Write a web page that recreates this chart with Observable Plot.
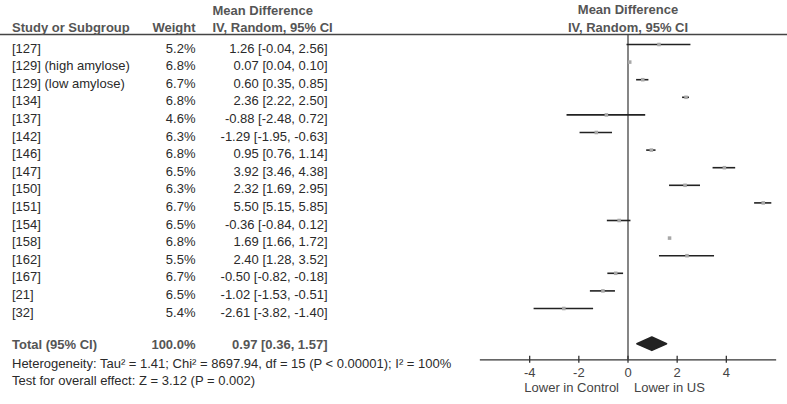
<!DOCTYPE html>
<html>
<head>
<meta charset="utf-8">
<script src="https://cdn.jsdelivr.net/npm/d3@7"></script>
<script src="https://cdn.jsdelivr.net/npm/@observablehq/plot@0.6"></script>
<style>
  html, body { margin: 0; padding: 0; background: #fff; }
  svg text { font-size: 13px; }
</style>
</head>
<body>
<div id="chart"></div>
<script>
const studies = ["[127]", "[129] (high amylose)", "[129] (low amylose)", "[134]", "[137]", "[142]", "[146]", "[147]", "[150]", "[151]", "[154]", "[158]", "[162]", "[167]", "[21]", "[32]"];
const weights = [5.2, 6.8, 6.7, 6.8, 4.6, 6.3, 6.8, 6.5, 6.3, 6.7, 6.5, 6.8, 5.5, 6.7, 6.5, 5.4];
const meanDiff = [1.26, 0.07, 0.60, 2.36, -0.88, -1.29, 0.95, 3.92, 2.32, 5.50, -0.36, 1.69, 2.40, -0.50, -1.02, -2.61];
const ciLow = [-0.04, 0.04, 0.35, 2.22, -2.48, -1.95, 0.76, 3.46, 1.69, 5.15, -0.84, 1.66, 1.28, -0.82, -1.53, -3.82];
const ciHigh = [2.56, 0.10, 0.85, 2.50, 0.72, -0.63, 1.14, 4.38, 2.95, 5.85, 0.12, 1.72, 3.52, -0.18, -0.51, -1.40];

const totalLabel = "Total (95% CI)";
const totalWeight = 100.0;
const totalMD = 0.97;
const totalLow = 0.36;
const totalHigh = 1.57;

const tau2 = 1.41, chi2 = 8697.94, df = 15, pHet = "< 0.00001", i2 = 100;
const zValue = 3.12, pOverall = 0.002;

const xTicks = [-4, -2, 0, 2, 4];
const directionLabels = ["Lower in Control", "Lower in US"];
const colHeaders = ["Study or Subgroup", "Weight"];
const mdHeader = ["Mean Difference", "IV, Random, 95% CI"];

const fmtCI = (m, l, h) => `${m.toFixed(2)} [${l.toFixed(2)}, ${h.toFixed(2)}]`;

const rows = studies.map((name, i) => ({
  name, row: i,
  weight: weights[i].toFixed(1) + "%",
  md: meanDiff[i], lo: ciLow[i], hi: ciHigh[i],
  ci: fmtCI(meanDiff[i], ciLow[i], ciHigh[i])
}));
const totalRow = studies.length + 1;
const totalData = [{
  name: totalLabel, row: totalRow,
  weight: totalWeight.toFixed(1) + "%",
  ci: fmtCI(totalMD, totalLow, totalHigh)
}];
const dh = 0.38;
const diamond = [
  {x: totalLow, y: totalRow},
  {x: totalMD, y: totalRow - dh},
  {x: totalHigh, y: totalRow},
  {x: totalMD, y: totalRow + dh}
];

const hetText = `Heterogeneity: Tau² = ${tau2.toFixed(2)}; Chi² = ${chi2.toFixed(2)}, df = ${df} (P ${pHet}); I² = ${i2}%`;
const testText = `Test for overall effect: Z = ${zValue.toFixed(2)} (P = ${pOverall})`;

const headColor = "#555";
const textColor = "#2a2a2a";
const fs = 13;

const plot = Plot.plot({
  width: 787,
  height: 404,
  marginTop: 34,
  marginBottom: 44.7,
  marginLeft: 0,
  marginRight: 0,
  x: {domain: [-6, 6], insetLeft: 480, insetRight: 12},
  y: {domain: [0, totalRow], range: [44, 343.2], axis: null},
  style: {fontFamily: "'Liberation Sans', Arial, sans-serif", fontSize: "13px", background: "#fff", color: textColor},
  marks: [
    Plot.frame({anchor: "top", stroke: "#444", strokeWidth: 1.5}),
    Plot.frame({anchor: "bottom", insetLeft: 480, insetRight: 12, stroke: "#333", strokeWidth: 1.3}),
    Plot.ruleX([0], {stroke: "#444", strokeWidth: 1.3}),
    Plot.axisX({anchor: "bottom", ticks: xTicks, tickSize: 7, tickPadding: 4, dy: -3.5, tickFormat: d => String(d), fontSize: fs, stroke: "#333", strokeWidth: 1.3, fill: "#444", label: null}),
    Plot.ruleY(rows, {y: "row", x1: "lo", x2: "hi", stroke: "#222", strokeWidth: 1.6}),
    Plot.dot(rows, {x: "md", y: "row", symbol: "square", r: 2, fill: "#a8a8a8", stroke: null}),
    Plot.line(diamond, {x: "x", y: "y", fill: "#222", stroke: "#222", curve: "linear-closed"}),
    // column headers
    Plot.text([colHeaders[0]], {frameAnchor: "top-left", dx: 11.5, dy: -6.7, textAnchor: "start", lineAnchor: "middle", fontWeight: "bold", fontSize: fs, fill: headColor}),
    Plot.text([colHeaders[1]], {frameAnchor: "top-left", dx: 195, dy: -6.7, textAnchor: "end", lineAnchor: "middle", fontWeight: "bold", fontSize: fs, fill: headColor}),
    Plot.text([mdHeader[0]], {frameAnchor: "top-left", dx: 212, dy: -24, textAnchor: "start", lineAnchor: "middle", fontWeight: "bold", fontSize: fs, fill: headColor}),
    Plot.text([mdHeader[1]], {frameAnchor: "top-left", dx: 212, dy: -6.7, textAnchor: "start", lineAnchor: "middle", fontWeight: "bold", fontSize: fs, fill: headColor}),
    Plot.text([mdHeader[0]], {x: () => 0, frameAnchor: "top", dy: -24.5, textAnchor: "middle", lineAnchor: "middle", fontWeight: "bold", fontSize: fs, fill: headColor}),
    Plot.text([mdHeader[1]], {x: () => 0, frameAnchor: "top", dy: -7, textAnchor: "middle", lineAnchor: "middle", fontWeight: "bold", fontSize: fs, fill: headColor}),
    // study rows
    Plot.text(rows, {y: "row", text: "name", frameAnchor: "left", dx: 11.5, dy: 4, textAnchor: "start", lineAnchor: "middle", fontSize: fs, fill: textColor}),
    Plot.text(rows, {y: "row", text: "weight", frameAnchor: "left", dx: 195, dy: 4, textAnchor: "end", lineAnchor: "middle", fontSize: fs, fill: textColor}),
    Plot.text(rows, {y: "row", text: "ci", frameAnchor: "left", dx: 327, dy: 4, textAnchor: "end", lineAnchor: "middle", fontSize: fs, fill: textColor}),
    // total row
    Plot.text(totalData, {y: "row", text: "name", frameAnchor: "left", dx: 11.5, dy: 1.5, textAnchor: "start", lineAnchor: "middle", fontWeight: "bold", fontSize: fs, fill: headColor}),
    Plot.text(totalData, {y: "row", text: "weight", frameAnchor: "left", dx: 195, dy: 1.5, textAnchor: "end", lineAnchor: "middle", fontWeight: "bold", fontSize: fs, fill: headColor}),
    Plot.text(totalData, {y: "row", text: "ci", frameAnchor: "left", dx: 327, dy: 1.5, textAnchor: "end", lineAnchor: "middle", fontWeight: "bold", fontSize: fs, fill: headColor}),
    // footnotes
    Plot.text([hetText], {frameAnchor: "bottom-left", dx: 11.5, dy: 4, textAnchor: "start", lineAnchor: "middle", fontSize: fs, fill: textColor}),
    Plot.text([testText], {frameAnchor: "bottom-left", dx: 11.5, dy: 21.4, textAnchor: "start", lineAnchor: "middle", fontSize: fs, fill: textColor}),
    // direction labels
    Plot.text([directionLabels[0]], {x: () => 0, frameAnchor: "bottom", dx: -9, dy: 28, textAnchor: "end", lineAnchor: "middle", fontSize: fs, fill: "#444"}),
    Plot.text([directionLabels[1]], {x: () => 0, frameAnchor: "bottom", dx: 6, dy: 28, textAnchor: "start", lineAnchor: "middle", fontSize: fs, fill: "#444"})
  ]
});
document.getElementById("chart").appendChild(plot);
</script>
</body>
</html>
